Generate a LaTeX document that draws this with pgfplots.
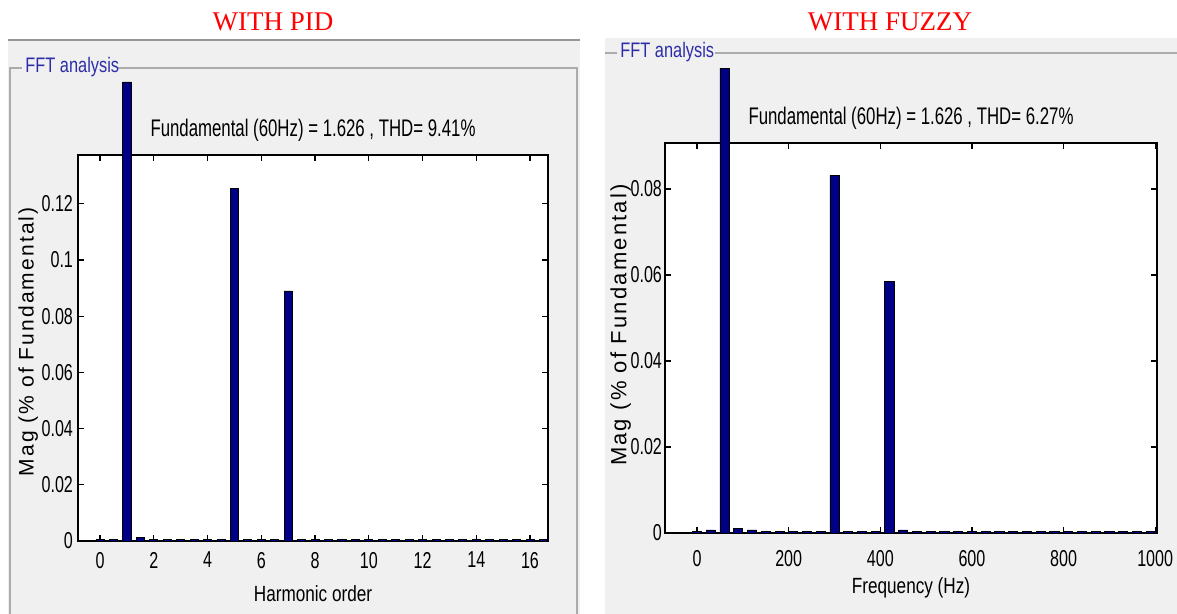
\documentclass[border=0pt]{standalone}
\usepackage{fontspec}
\setmainfont{Liberation Sans}
\newfontfamily\mfont[FakeStretch=0.78]{Liberation Sans}
\newfontfamily\nfont[FakeStretch=0.7]{Liberation Sans}
\newfontfamily\lsfont[LetterSpace=10]{Liberation Sans}
\newfontfamily\tfont{Liberation Serif}
\usepackage{pgfplots}
\pgfplotsset{compat=1.18}
\definecolor{panel}{RGB}{240,240,240}
\definecolor{navy}{RGB}{0,0,135}
\definecolor{fftblue}{RGB}{45,45,170}
\definecolor{edgegray}{RGB}{150,150,150}
\pgfplotstableread{
x y
0 0.0004
0.5 0.0004
1 0.1634
1.5 0.0012
2 0.0004
2.5 0.0004
3 0.0004
3.5 0.0004
4 0.0004
4.5 0.0004
5 0.1256
5.5 0.0004
6 0.0004
6.5 0.0004
7 0.0890
7.5 0.0004
8 0.0004
8.5 0.0004
9 0.0004
9.5 0.0004
10 0.0004
10.5 0.0004
11 0.0004
11.5 0.0004
12 0.0004
12.5 0.0004
13 0.0004
13.5 0.0004
14 0.0004
14.5 0.0004
15 0.0004
15.5 0.0004
16 0.0004
16.5 0.0004
}\pidtable
\pgfplotstableread{
x y
0 0.0003
30 0.0007
60 0.1081
90 0.0011
120 0.0007
150 0.0003
180 0.0003
210 0.0003
240 0.0003
270 0.0003
300 0.0832
330 0.0003
360 0.0003
390 0.0004
420 0.0585
450 0.0007
480 0.0003
510 0.0003
540 0.0003
570 0.0003
600 0.0003
630 0.0003
660 0.0003
690 0.0003
720 0.0003
750 0.0003
780 0.0003
810 0.0003
840 0.0003
870 0.0003
900 0.0003
930 0.0003
960 0.0003
990 0.0003
}\fuzzytable
\pgfplotsset{
  fftax/.style={
    scale only axis, ybar, clip=false,
    axis background/.style={fill=white},
    tick align=inside,
    major tick length=3pt,
    tick style={black, line width=0.6pt},
    axis line style={black, line width=0.8pt},
    ticklabel style={font=\nfont\fontsize{11.5}{13}\selectfont},
    /pgf/number format/assume math mode=true,
    /pgf/number format/1000 sep={},
    scaled y ticks=false,
    yticklabel style={/pgf/number format/fixed, /pgf/number format/precision=2},
    title style={font=\nfont\fontsize{12}{14}\selectfont, at={(axis description cs:0.5,1)}, anchor=center, yshift=6.5pt},
  }
}
\begin{document}
\begin{tikzpicture}
\useasboundingbox (0,0) rectangle (588.5pt,307pt);
\begin{scope}[x=0.5pt,y=-0.5pt,shift={(0,-614)}]
  \fill[white] (0,0) rectangle (1177,614);
  % left panel
  \fill[panel] (8,40) rectangle (580,614);
  \draw[edgegray, line width=0.9pt] (8,40) -- (580,40);
  \draw[edgegray!80, line width=0.8pt] (10,614) -- (10,68) -- (22,68);
  \draw[edgegray!80, line width=0.8pt] (118,68) -- (577,68) -- (577,614);
  \node[anchor=west, text=fftblue, font=\mfont\fontsize{10.5}{12}\selectfont, inner sep=1pt] at (23,67) {FFT analysis};
  \node[text=red, font=\tfont\fontsize{13.5}{16}\selectfont] at (273,22) {WITH PID};
  % right panel
  \fill[panel] (605,38) rectangle (1177,614);
  \draw[edgegray!80, line width=0.8pt] (605,53) -- (617,53);
  \draw[edgegray!80, line width=0.8pt] (715,53) -- (1177,53);
  \node[anchor=west, text=fftblue, font=\mfont\fontsize{10.5}{12}\selectfont, inner sep=1pt] at (618,52) {FFT analysis};
  \node[text=red, font=\tfont\fontsize{13.5}{16}\selectfont] at (890,22) {WITH FUZZY};
\end{scope}

\begin{axis}[fftax,
  at={(39pt,36.5pt)}, anchor=south west,
  width=235pt, height=193pt,
  xmin=-0.82, xmax=16.67, ymin=0, ymax=0.1374,
  xtick={0,2,...,16},
  ytick={0,0.02,0.04,0.06,0.08,0.1,0.12},
  bar width=0.3,
  xlabel={Harmonic order},
  ylabel={Mag (\% of Fundamental)},
  every axis x label/.style={at={(axis description cs:0.5,-0.137)}, anchor=center, font=\mfont\fontsize{11}{13}\selectfont},
  every axis y label/.style={at={(axis description cs:-0.106,0.516)}, anchor=center, rotate=90, font=\lsfont\fontsize{10.5}{12}\selectfont},
  xticklabel style={yshift=-2pt},
  yticklabel style={xshift=1pt},
  title={Fundamental (60Hz) = 1.626 , THD= 9.41\%},
]
\addplot[fill=navy, draw=black, line width=0.4pt] table[x=x,y=y] {\pidtable};
\end{axis}

\begin{axis}[fftax,
  at={(332.5pt,40.5pt)}, anchor=south west,
  width=246pt, height=195pt,
  xmin=-70, xmax=1004, ymin=0, ymax=0.0907,
  xtick={0,200,...,1000},
  ytick={0,0.02,0.04,0.06,0.08},
  bar width=20,
  xlabel={Frequency (Hz)},
  ylabel={Mag (\% of Fundamental)},
  every axis x label/.style={at={(axis description cs:0.5,-0.141)}, anchor=center, font=\mfont\fontsize{11}{13}\selectfont},
  every axis y label/.style={at={(axis description cs:-0.09,0.533)}, anchor=center, rotate=90, font=\lsfont\fontsize{11}{13}\selectfont},
  xticklabel style={yshift=-5pt},
  yticklabel style={xshift=2pt},
  title={Fundamental (60Hz) = 1.626 , THD= 6.27\%},
]
\addplot[fill=navy, draw=black, line width=0.4pt] table[x=x,y=y] {\fuzzytable};
\end{axis}
\end{tikzpicture}
\end{document}
